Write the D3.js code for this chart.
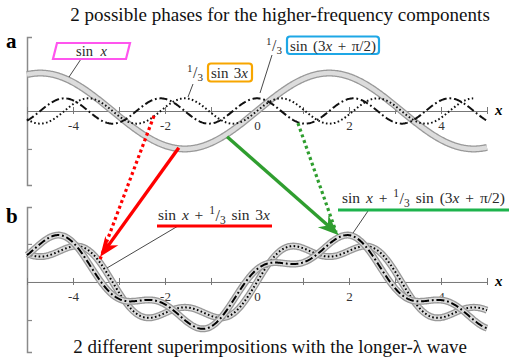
<!DOCTYPE html>
<html>
<head>
<meta charset="utf-8">
<script src="https://cdn.jsdelivr.net/npm/d3@7"></script>
<style>
  html, body { margin: 0; padding: 0; background: #fff; }
  svg { display: block; }
  text { font-family: "Liberation Serif", "Times New Roman", serif; white-space: pre; }
</style>
</head>
<body>
<svg id="chart" width="509" height="362"></svg>
<script>
// ---------------- data ----------------
const xDomain = [-5, 5];
const xTicks = [-5, -4, -3, -2, -1, 0, 1, 2, 3, 4, 5];
const xTickLabels = [-4, -2, 0, 2, 4];
const yTicks = [-1, 1];
const xSamples = d3.range(-5, 5.0001, 0.02);
// the functions named in the chart's labels
const sinX = xSamples.map(x => Math.sin(x));
const thirdSin3x = xSamples.map(x => Math.sin(3 * x) / 3);
const thirdSin3xShift = xSamples.map(x => Math.sin(3 * x + Math.PI / 2) / 3);
const sumA = xSamples.map((x, i) => sinX[i] + thirdSin3x[i]);
const sumB = xSamples.map((x, i) => sinX[i] + thirdSin3xShift[i]);
const title = "2 possible phases for the higher-frequency components";
const caption = "2 different superimpositions with the longer-\u03bb wave";
// arrows: [start x, start y (panel a)], [end x, end y (panel b)]
const arrowRedSolid = [[-1.70, -0.97], [-3.41, 0.66]];
const arrowRedDotted = [[-2.24, -0.13], [-3.41, 0.60]];
const arrowGreenSolid = [[-0.65, -0.68], [1.78, 1.23]];
const arrowGreenDotted = [[0.89, -0.32], [1.72, 1.31]];

// ---------------- layout ----------------
const svg = d3.select("#chart");
const x = d3.scaleLinear().domain(xDomain).range([27, 487]);
const yA = d3.scaleLinear().domain([-1.95, 1.95]).range([185, 37]);
const yB = d3.scaleLinear().domain([-1.84, 1.97]).range([352, 207]);

const RED = "#ff0000", GREEN = "#2f9e2f", GREEN2 = "#1db34c";
const MAGENTA = "#ff55ee", ORANGE = "#f7a600", BLUE = "#1ea7e6";
const INK = "#2a2a2a";

function fitText(xc, yb, size, str, target) {
  const t = svg.append("text").attr("x", xc).attr("y", yb).attr("text-anchor", "middle")
    .attr("font-size", size).attr("fill", "#111").text(str);
  const w = t.node().getComputedTextLength();
  t.attr("font-size", size * target / w);
  return t;
}
// title / caption
fitText(280, 21, 18, title, 420);
fitText(270, 353, 17.5, caption, 394);

// panel letters
svg.append("text").attr("x", 6).attr("y", 48).attr("font-size", 21).attr("font-weight", "bold").text("a");
svg.append("text").attr("x", 6).attr("y", 223).attr("font-size", 21).attr("font-weight", "bold").text("b");

function drawAxes(y) {
  const g = svg.append("g");
  const ya = g.append("g").attr("transform", `translate(${x(-5)},0)`)
    .call(d3.axisRight(y).tickValues(yTicks).tickSize(5).tickSizeOuter(5).tickFormat(""));
  ya.select(".domain").attr("stroke", "#8a8a8a").attr("stroke-width", 1.5);
  ya.selectAll(".tick line").attr("stroke", "#8a8a8a").attr("stroke-width", 1.2);
  const xa = g.append("g").attr("transform", `translate(0,${y(0)})`)
    .call(d3.axisBottom(x).tickValues(xTicks).tickSize(3).tickSizeOuter(0)
      .tickFormat(d => xTickLabels.includes(d) ? (d < 0 ? "-" + Math.abs(d) : String(d)) : ""));
  xa.select(".domain").attr("stroke", "#777").attr("stroke-width", 1);
  xa.selectAll(".tick line").attr("y1", -4).attr("y2", 3).attr("stroke", "#777");
  xa.selectAll(".tick text").attr("y", 10).attr("dy", "0.71em")
    .attr("font-size", 13).attr("fill", "#333");
  g.append("text").attr("x", 495).attr("y", y(0) + 4).attr("font-size", 15)
    .attr("font-weight", "bold").attr("font-style", "italic").text("x");
}
drawAxes(yA);
drawAxes(yB);

function lineGen(y) {
  return d3.line().x((d, i) => x(xSamples[i])).y(d => y(d)).defined(d => d !== null);
}
function clip(values, maxX) {
  return values.map((v, i) => (maxX !== undefined && xSamples[i] > maxX) ? null : v);
}
function tube(y, values, inner) {
  const lg = lineGen(y);
  svg.append("path").attr("d", lg(values)).attr("fill", "none").attr("stroke", "#999").attr("stroke-width", 7);
  svg.append("path").attr("d", lg(values)).attr("fill", "none").attr("stroke", "#dcdcdc").attr("stroke-width", 4.4);
  if (inner) {
    svg.append("path").attr("d", lg(values)).attr("fill", "none").attr("stroke", "#000")
      .attr("stroke-width", inner.w).attr("stroke-dasharray", inner.dash);
  }
}
function plain(y, values, style) {
  svg.append("path").attr("d", lineGen(y)(values)).attr("fill", "none").attr("stroke", "#111")
    .attr("stroke-width", style.w).attr("stroke-dasharray", style.dash);
}
const DOTTED = { w: 2, dash: "1.6,2.4" };
const DASHDOT = { w: 2, dash: "8,2.8,1.8,2.8" };

// ---------------- panel a ----------------
tube(yA, sinX, null);
plain(yA, clip(thirdSin3x, 4.72), DOTTED);
plain(yA, thirdSin3xShift, DASHDOT);

// ---------------- panel b ----------------
tube(yB, sumA, DOTTED);
tube(yB, sumB, DASHDOT);

// ---------------- rich text helper ----------------
// pieces: {t, it, sup, sub, sl, gap}; gaps absorb extra width to reach target
function rich(x0, yb, size, pieces, target) {
  const g = svg.append("g");
  const items = pieces.map(p => {
    if (p.gap) return { gap: true, w: size * 0.25 };
    let fs = size, dy = 0;
    if (p.sup) { fs = size * 0.74; dy = -size * 0.36; }
    if (p.sub) { fs = size * 0.74; dy = size * 0.24; }
    if (p.sl) { fs = size * 1.05; dy = size * 0.08; }
    const el = g.append("text").attr("y", yb + dy).attr("font-size", fs).attr("fill", INK)
      .attr("font-style", p.it ? "italic" : null).text(p.t);
    const w = el.node().getComputedTextLength();
    return { el, w: w + (p.pad || 0) };
  });
  const total = d3.sum(items, d => d.w);
  const nGaps = items.filter(d => d.gap).length;
  const extra = target && nGaps ? (target - total) / nGaps : 0;
  let cx = x0;
  items.forEach(d => {
    if (d.gap) { cx += d.w + extra; return; }
    d.el.attr("x", cx); cx += d.w;
  });
  return g;
}
const G = { gap: true };
const ONE_THIRD = [{ t: "1", sup: true, pad: 0.5 }, { t: "/", sl: true }, { t: "3", sub: true }];

function leader(x1, y1, x2, y2) {
  svg.append("line").attr("x1", x1).attr("y1", y1).attr("x2", x2).attr("y2", y2)
    .attr("stroke", "#333").attr("stroke-width", 0.9);
}

// ---------------- labels panel a ----------------
leader(81, 59, 69, 77);
svg.append("polygon").attr("points", "57,43 130,43 126,59 53,59")
  .attr("fill", "#fff").attr("stroke", MAGENTA).attr("stroke-width", 2.2);
rich(76, 55.5, 14.5, [{ t: "sin" }, G, { t: "x", it: true }], 31);

leader(193, 84, 188, 97);
rich(187, 77, 15, ONE_THIRD, 0);
svg.append("rect").attr("x", 208).attr("y", 63.5).attr("width", 44).attr("height", 18).attr("rx", 3)
  .attr("fill", "#fff").attr("stroke", ORANGE).attr("stroke-width", 2.2);
rich(211, 77.5, 15, [{ t: "sin" }, G, { t: "3" }, { t: "x", it: true }], 37);

leader(272, 55, 260, 93);
rich(266, 50, 15, ONE_THIRD, 0);
svg.append("rect").attr("x", 287).attr("y", 36.5).attr("width", 92).attr("height", 17.5).attr("rx", 3)
  .attr("fill", "#fff").attr("stroke", BLUE).attr("stroke-width", 2.2);
rich(290, 50.5, 15, [{ t: "sin" }, G, { t: "(3" }, { t: "x", it: true }, G, { t: "+" }, G, { t: "\u03c0/2)" }], 86);

// ---------------- labels panel b ----------------
leader(178, 226, 107, 268);
svg.append("line").attr("x1", 157).attr("x2", 272).attr("y1", 226).attr("y2", 226)
  .attr("stroke", RED).attr("stroke-width", 3);
rich(158, 220, 15.5, [{ t: "sin" }, G, { t: "x", it: true }, G, { t: "+" }, G, ...ONE_THIRD, G,
  { t: "sin" }, G, { t: "3" }, { t: "x", it: true }], 112);

leader(368, 211, 353, 233);
svg.append("line").attr("x1", 338).attr("x2", 509).attr("y1", 210).attr("y2", 210)
  .attr("stroke", GREEN2).attr("stroke-width", 3);
rich(342, 203, 15.5, [{ t: "sin" }, G, { t: "x", it: true }, G, { t: "+" }, G, ...ONE_THIRD, G,
  { t: "sin" }, G, { t: "(3" }, { t: "x", it: true }, G, { t: "+" }, G, { t: "\u03c0/2)" }], 163);

// ---------------- arrows ----------------
function arrow(a, color, dotted, headLen, headW) {
  const x1 = x(a[0][0]), y1 = yA(a[0][1]);
  const x2 = x(a[1][0]), y2 = yB(a[1][1]);
  const dx = x2 - x1, dy = y2 - y1, L = Math.hypot(dx, dy);
  const ux = dx / L, uy = dy / L;
  if (dotted) {
    svg.append("line").attr("x1", x1).attr("y1", y1).attr("x2", x2).attr("y2", y2)
      .attr("stroke", color).attr("stroke-width", 3.2).attr("stroke-dasharray", "3,3");
    return;
  }
  const ex = x2 - ux * headLen * 0.6, ey = y2 - uy * headLen * 0.6;
  svg.append("line").attr("x1", x1).attr("y1", y1).attr("x2", ex).attr("y2", ey)
    .attr("stroke", color).attr("stroke-width", 3.4);
  const bx = x2 - ux * headLen, by = y2 - uy * headLen;
  const nx = -uy, ny = ux;
  const mx = x2 - ux * headLen * 0.7, my = y2 - uy * headLen * 0.7;
  const pts = [[x2, y2], [bx + nx * headW / 2, by + ny * headW / 2], [mx, my], [bx - nx * headW / 2, by - ny * headW / 2]];
  svg.append("polygon").attr("points", pts.map(p => p.join(",")).join(" ")).attr("fill", color);
}
arrow(arrowRedDotted, RED, true);
arrow(arrowRedSolid, RED, false, 20, 16);
arrow(arrowGreenDotted, GREEN, true);
arrow(arrowGreenSolid, GREEN, false, 21, 16);
</script>
</body>
</html>
